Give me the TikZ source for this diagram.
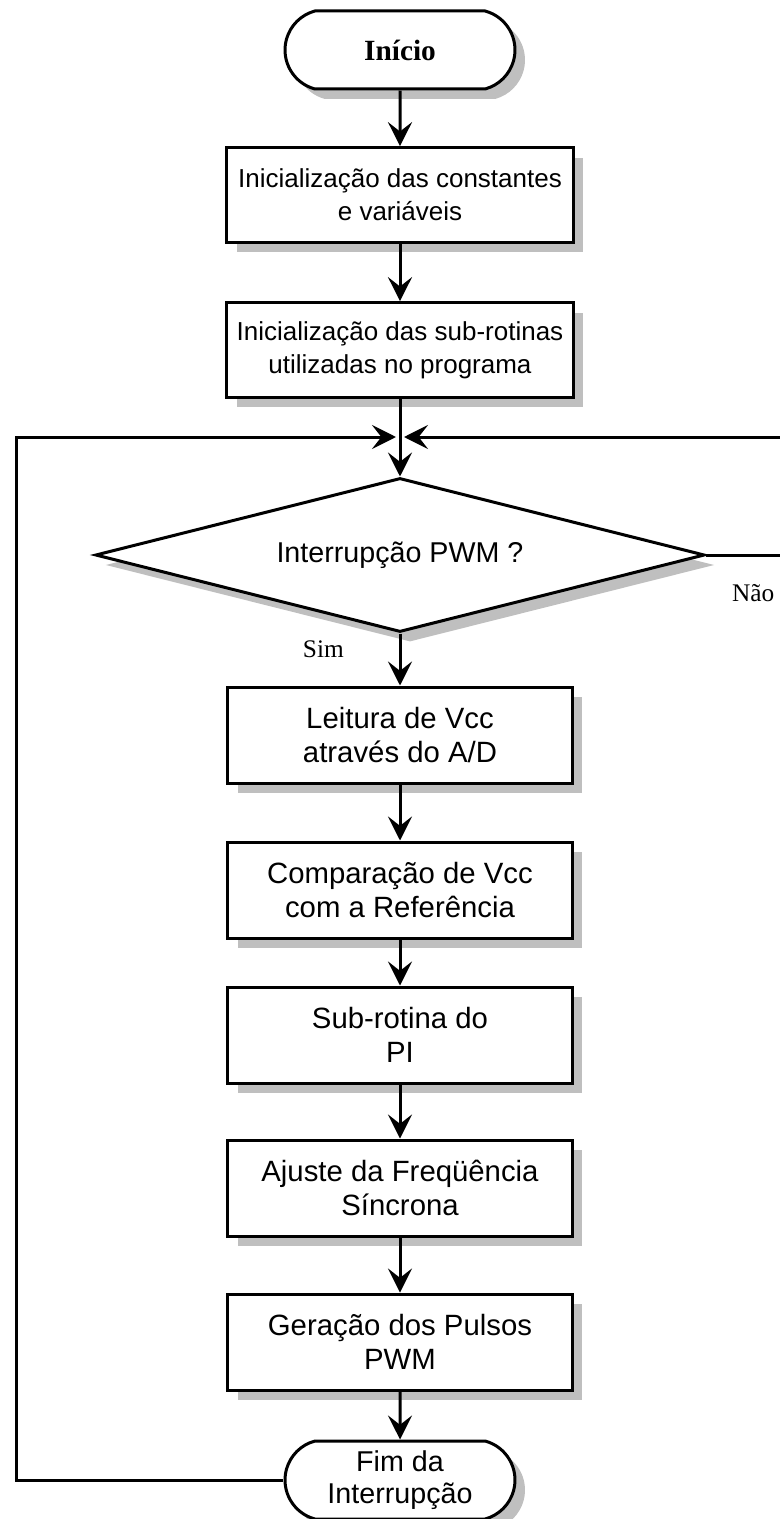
\documentclass[tikz,border=0pt]{standalone}
\usepackage{fontspec}
\setmainfont{Liberation Serif}
\newfontfamily\caixafont{Liberation Sans}
\usetikzlibrary{shapes.geometric,shapes.misc,shadows,arrows.meta,positioning,calc}
\begin{document}
\begin{tikzpicture}[node distance=116.25pt,
    sombra/.style={drop shadow={shadow xshift=7.5pt, shadow yshift=-7.5pt, fill=black!25, opacity=1}},
    terminal/.style={rounded rectangle, rounded rectangle arc length=150, draw, line width=2.25pt, fill=white, sombra, minimum width=172.5pt, minimum height=58.5pt, inner sep=0pt, align=center},
    topbox/.style={rectangle, draw, line width=2.25pt, fill=white, sombra, minimum width=260pt, minimum height=71pt, align=center, font=\caixafont\fontsize{19.5}{24.75}\selectfont},
    block/.style={rectangle, draw, line width=2.25pt, fill=white, sombra, minimum width=258pt, minimum height=72pt, align=center, font=\caixafont\fontsize{22}{26}\selectfont},
    decision/.style={diamond, aspect=3.95, draw, line width=2.25pt, fill=white, sombra, minimum width=457pt, minimum height=115.5pt, inner sep=0pt, font=\caixafont\fontsize{21.5}{26}\selectfont},
    rotulo/.style={inner sep=0pt, font=\fontsize{19}{22}\selectfont},
    arrow/.style={line width=2.25pt, -{Stealth[length=18pt, width=18pt, inset=7pt]}}]
    \useasboundingbox (-300pt,37.5pt) rectangle (284.25pt,-1101.75pt);
    \node [terminal, font=\bfseries\fontsize{22}{26}\selectfont] (inicio) at (0,0) {Início};
    \node [topbox, below of=inicio, node distance=108.75pt] (iniconst) {Inicialização das constantes\\e variáveis};
    \node [topbox, below of=iniconst] (inisub) {Inicialização das sub-rotinas\\utilizadas no programa};
    \coordinate [below of=inisub, node distance=65.25pt] (junta);
    \node [decision, below of=inisub, node distance=153.75pt] (interrup) {Interrupção PWM ?};
    \node [block, below of=interrup, node distance=135pt] (leitura) {Leitura de Vcc\\através do A/D};
    \node [block, below of=leitura] (compara) {Comparação de Vcc\\com a Referência};
    \node [block, below of=compara, node distance=108.75pt] (subpi) {Sub-rotina do\\PI};
    \node [block, below of=subpi, node distance=114.75pt] (ajuste) {Ajuste da Freqüência\\Síncrona};
    \node [block, below of=ajuste, node distance=115.5pt] (geracao) {Geração dos Pulsos\\PWM};
    \node [terminal, below of=geracao, node distance=103.5pt, font=\caixafont\fontsize{21.5}{24}\selectfont] (fim) {Fim da\\Interrupção};
    \coordinate (esq) at ($(junta)+(-287.25pt,0)$);
    \coordinate (dir) at ($(junta)+(286.5pt,0)$);
    \draw [arrow] (inicio) -- (iniconst);
    \draw [arrow] (iniconst) -- (inisub);
    \draw [arrow] (inisub) -- (interrup);
    \draw [arrow] (interrup) -- node[rotulo, pos=0, below left=4.5pt and 41pt]{Sim} (leitura);
    \draw [arrow] (leitura) -- (compara);
    \draw [arrow] (compara) -- (subpi);
    \draw [arrow] (subpi) -- (ajuste);
    \draw [arrow] (ajuste) -- (geracao);
    \draw [arrow] (geracao) -- (fim);
    \draw [arrow, shorten >=3pt] (fim.west) -| (esq) -- (junta);
    \draw [arrow, shorten >=3pt] (interrup.east) -| node[rotulo, pos=0.31, below=21pt]{Não} (dir) -- (junta);
\end{tikzpicture}
\end{document}
